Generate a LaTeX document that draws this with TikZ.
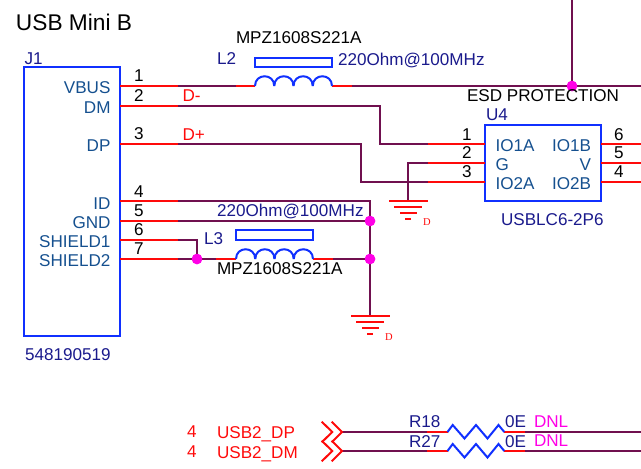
\documentclass[tikz,border=0pt]{standalone}
\usepackage{fontspec}
\setmainfont{Liberation Sans}
\newfontfamily\serifd{Liberation Serif}
\definecolor{wiredark}{HTML}{70104F}
\definecolor{pinred}{HTML}{FF0A0A}
\definecolor{boxblue}{HTML}{1030FF}
\definecolor{navytxt}{HTML}{1A1A8C}
\definecolor{pintxt}{HTML}{15508F}
\definecolor{dotmag}{HTML}{FF00E6}
\tikzset{
  txt/.style={inner sep=0pt,outer sep=0pt,font=\fontsize{17.1}{20}\selectfont},
  blk/.style={txt,text=black},
  navy/.style={txt,text=navytxt},
  pinname/.style={txt,text=pintxt,anchor=east},
  pinleft/.style={txt,text=pintxt,anchor=west},
  redt/.style={txt,text=pinred},
  magt/.style={txt,text=dotmag},
  wire/.style={draw=wiredark,line width=2pt},
  redw/.style={draw=pinred,line width=2pt},
  part/.style={draw=boxblue,line width=2pt},
  gndl/.style={draw=pinred,line width=2pt},
  dot/.style={circle,fill=dotmag,inner sep=0pt,minimum size=10.5pt},
}
\newcommand{\coilfrom}[2]{%
  \foreach \k in {0,1,2,3}{
    \draw[part] ({#1+19.25*\k},#2) .. controls ({#1+19.25*\k},{#2-13}) and ({#1+19.25*(\k+1)},{#2-13}) .. ({#1+19.25*(\k+1)},#2);
  }}
\newcommand{\gndsym}[3]{%
  \draw[gndl] ({#1-19},#2) -- ({#1+20},#2);
  \draw[gndl] ({#1-14},{#2+6}) -- ({#1+14},{#2+6});
  \draw[gndl] ({#1-8},{#2+12}) -- ({#1+9},{#2+12});
  \draw[gndl] ({#1-3},{#2+18}) -- ({#1+3},{#2+18});
  \node[inner sep=0pt,text=pinred,font=\fontsize{10.5}{12}\serifd\selectfont] (#3) at ({#1+19},{#2+21}) {D};}
\newcommand{\zigzag}[2]{%
  \draw[part,line join=miter] (#1,#2) -- ({#1+5.2},{#2-7}) -- ({#1+17},{#2+6.5}) -- ({#1+28.5},{#2-7}) -- ({#1+40},{#2+6.5}) -- ({#1+51},{#2-7}) -- ({#1+56.8},#2);}
\begin{document}
\begin{tikzpicture}[x=1pt,y=-1pt]
\useasboundingbox (0,0) rectangle (641,469);

% component bodies
\node[part,rectangle,minimum width=96pt,minimum height=269pt,inner sep=0pt] (J1) at (72,201.5) {};
\node[part,rectangle,minimum width=116pt,minimum height=76pt,inner sep=0pt] (U4) at (543,163) {};
\node[part,rectangle,minimum width=77pt,minimum height=9pt,inner sep=0pt] (L2b) at (293.5,62.5) {};
\node[part,rectangle,minimum width=77pt,minimum height=10pt,inner sep=0pt] (L3b) at (274.5,235) {};

% named connection points
\foreach \n/\y in {p1/86,p2/106,p3/144,p4/201,p5/221,p6/240,p7/259}{
  \coordinate (\n a) at (120,\y);
  \coordinate (\n b) at (178,\y);
}
\foreach \n/\y in {u1/144,u2/163,u3/182}{
  \coordinate (\n a) at (485,\y);
  \coordinate (\n b) at (428,\y);
}
\foreach \n/\y in {u6/144,u5/163,u4/182}{
  \coordinate (\n a) at (601,\y);
  \coordinate (\n b) at (641,\y);
}
\coordinate (L2l) at (255,86); \coordinate (L2w) at (236,86);
\coordinate (L2r) at (332,86); \coordinate (L2e) at (352,86);
\coordinate (vr) at (641,86);  \coordinate (vt) at (572,0);
\coordinate (L3w) at (216,259); \coordinate (L3l) at (236,259);
\coordinate (L3r) at (313,259); \coordinate (L3e) at (333,259);
\coordinate (g1) at (408,201);
\coordinate (g2) at (370,316);
\coordinate (idc) at (370,201);

\node[dot] (jv) at (572,86) {};
\node[dot] (jg) at (370,221) {};
\node[dot] (js) at (370,259) {};
\node[dot] (jl) at (197,259) {};

% dark wires
\draw[wire] (p1b) -- (L2w);
\draw[wire] (L2e) -- (vr);
\draw[wire] (vt) -- (jv.center);
\draw[wire] (p2b) -| (380,144) -- (u1b);
\draw[wire] (p3b) -| (361,182) -- (u3b);
\draw[wire] (u2b) -| (g1);
\draw[wire] (p4b) -- (idc) -- (jg.center);
\draw[wire] (p5b) -- (jg.center) -- (js.center) -- (g2);
\draw[wire] (p6b) -| (jl.center);
\draw[wire] (p7b) -- (L3w);
\draw[wire] (L3e) -- (js.center);

% red pin stubs
\foreach \n in {p1,p2,p3,p4,p5,p6,p7,u1,u2,u3,u6,u5,u4}{
  \draw[redw] (\n a) -- (\n b);
}
\draw[redw] (L2w) -- (L2l);
\draw[redw] (L2r) -- (L2e);
\draw[redw] (L3w) -- (L3l);
\draw[redw] (L3r) -- (L3e);

% coils
\coilfrom{255}{86}
\coilfrom{236}{259}

% grounds
\gndsym{408}{201}{gndA}
\gndsym{370}{316}{gndB}

% junctions on top
\node[dot] at (jv) {};
\node[dot] at (jg) {};
\node[dot] at (js) {};
\node[dot] at (jl) {};

% bottom nets
\foreach \n/\y in {a/432,b/451}{
  \coordinate (c\n) at (342,\y);
  \coordinate (r\n 1) at (427,\y);
  \coordinate (r\n 2) at (447.5,\y);
  \coordinate (r\n 3) at (504.3,\y);
  \coordinate (r\n 4) at (524.5,\y);
  \coordinate (e\n) at (641,\y);
  \draw[wire] (c\n) -- (r\n 1);
  \draw[wire] (r\n 4) -- (e\n);
  \draw[redw] (r\n 1) -- (r\n 2);
  \draw[redw] (r\n 3) -- (r\n 4);
  \zigzag{447.5}{\y}
  \draw[redw] (321.7,{\y-10.3}) -- (332.3,\y) -- (321.7,{\y+10.3});
  \draw[redw] (331.7,{\y-10.3}) -- (c\n) -- (331.7,{\y+10.3});
}

% texts
\node[txt,anchor=west,font=\fontsize{22.7}{26}\selectfont] (title) at (16,22) {USB Mini B};
\node[navy,anchor=west] (tJ1) at (24.5,59) {J1};
\node[navy,anchor=west] (tL2) at (217,59) {L2};
\node[blk,anchor=west] (tM1) at (236,38) {MPZ1608S221A};
\node[navy,anchor=west] (tv1) at (338,60) {220Ohm@100MHz};
\node[blk,anchor=west] (tesd) at (467,96) {ESD PROTECTION};
\node[navy,anchor=west] (tU4) at (486,115) {U4};
\node[navy,anchor=west] (tus) at (501,219.5) {USBLC6-2P6};
\node[navy,anchor=west] (tv2) at (217,211) {220Ohm@100MHz};
\node[navy,anchor=west] (tL3) at (204,238.5) {L3};
\node[blk,anchor=west] (tM2) at (217,269) {MPZ1608S221A};
\node[navy,anchor=west] (tpn) at (25,355) {548190519};

\foreach \t/\y in {VBUS/88,DM/108,DP/146,ID/203.5,GND/222.5,SHIELD1/241.5,SHIELD2/261}{
  \node[pinname] at (110.5,\y) {\t};
}
\foreach \t/\y in {1/76,2/95.5,3/134,4/191.5,5/211,6/230,7/249}{
  \node[blk] at (139,\y) {\t};
}
\node[redt,anchor=west] (tdm) at (182.5,96) {D-};
\node[redt,anchor=west] (tdp) at (182.5,134.5) {D+};

\foreach \t/\y in {1/134.5,2/153,3/172}{
  \node[blk] at (467,\y) {\t};
}
\foreach \t/\y in {6/134.5,5/153,4/172}{
  \node[blk] at (619,\y) {\t};
}
\node[pinleft] at (495.5,146) {IO1A};
\node[pinleft] at (495.5,165) {G};
\node[pinleft] at (495.5,184) {IO2A};
\node[pinname] at (591,146) {IO1B};
\node[pinname] at (591,165) {V};
\node[pinname] at (591,184) {IO2B};

\node[redt] at (192,432) {4};
\node[redt] at (192,452) {4};
\node[redt,anchor=base west] (usb1) at (217,438) {USB2\_DP};
\node[redt,anchor=base west] (usb2) at (217,458) {USB2\_DM};
\node[navy,anchor=west] at (409,422) {R18};
\node[navy,anchor=west] at (409,441.5) {R27};
\node[navy,anchor=west] at (505,422) {0E};
\node[navy,anchor=west] at (505,441.5) {0E};
\node[magt,anchor=west] at (534,422) {DNL};
\node[magt,anchor=west] at (534,441) {DNL};
\end{tikzpicture}
\end{document}
